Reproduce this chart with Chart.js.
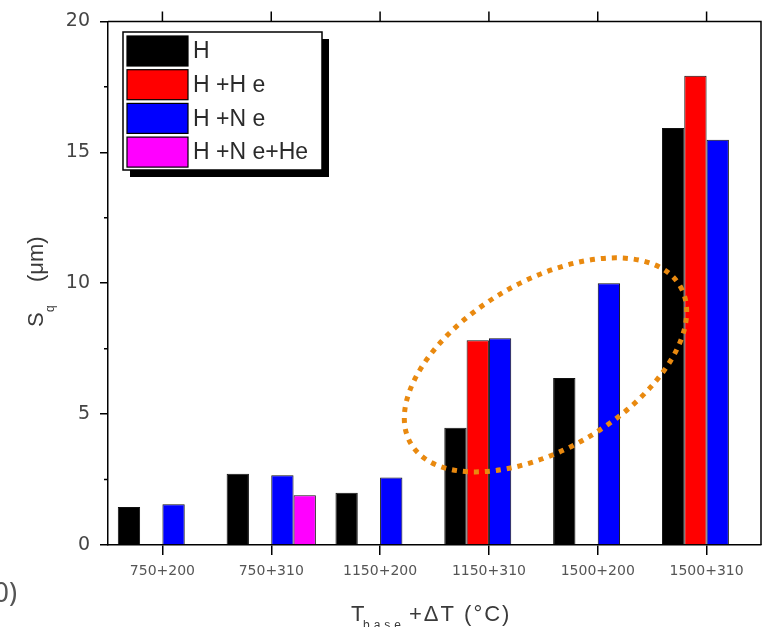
<!DOCTYPE html>
<html>
<head>
<meta charset="utf-8">
<script src="https://cdn.jsdelivr.net/npm/chart.js@4"></script>
<style>
  body { margin: 0; background: #fff; }
  #wrap { width: 762px; height: 627px; }
</style>
</head>
<body>
<div id="wrap"><canvas id="sqChart" width="762" height="627"></canvas></div>
<script>
/* DATA */

const categories = ["750+200", "750+310", "1150+200", "1150+310", "1500+200", "1500+310"];
const seriesNames = ["H", "H +H e", "H +N e", "H +N e+He"];
const sqH = [1.45, 2.72, 2.0, 4.48, 6.38, 15.93];
const sqHHe = [null, null, null, 7.82, null, 17.92];
const sqHNe = [1.56, 2.66, 2.58, 7.9, 10.0, 15.48];
const sqHNeHe = [null, 1.9, null, null, null, null];
const seriesColors = ["#000000", "#ff0000", "#0000ff", "#ff00ff"];
const yTicks = [0, 5, 10, 15, 20];
const yMinorTicks = [2.5, 7.5, 12.5, 17.5];

// dotted highlight ring, centre given in axis units
const ring = { x: 3.52, y: 6.88 };

/* PLUGINS */

const framePlugin = {
  id: "frame",
  afterDraw(chart) {
    const { ctx, chartArea: a, scales: { x, y } } = chart;
    ctx.save();
    ctx.strokeStyle = "#000";
    ctx.lineWidth = 1.5;
    ctx.beginPath();
    ctx.moveTo(a.left, a.top);
    ctx.lineTo(a.right, a.top);
    ctx.lineTo(a.right, a.bottom);
    x.ticks.forEach((t, i) => {
      const px = x.getPixelForTick(i);
      ctx.moveTo(px, a.top);
      ctx.lineTo(px, a.top - 10);
    });
    yMinorTicks.forEach(v => {
      const py = y.getPixelForValue(v);
      ctx.moveTo(a.left, py);
      ctx.lineTo(a.left - 4, py);
    });
    ctx.stroke();

    // highlight ring
    ctx.strokeStyle = "#e9890f";
    ctx.lineWidth = 5;
    ctx.setLineDash([5, 6]);
    ctx.beginPath();
    ctx.ellipse(x.getPixelForValue(ring.x), y.getPixelForValue(ring.y), 156, 84, -30.3 * Math.PI / 180, 0, Math.PI * 2);
    ctx.stroke();
    ctx.setLineDash([]);

    // legend
    const lx = 123, ly = 32, lw = 199, lh = 138;
    ctx.fillStyle = "#000";
    ctx.fillRect(lx + 7, ly + 7, lw, lh);
    ctx.fillStyle = "#fff";
    ctx.fillRect(lx, ly, lw, lh);
    ctx.strokeStyle = "#000";
    ctx.lineWidth = 1.5;
    ctx.strokeRect(lx, ly, lw, lh);
    ctx.font = "23px 'Liberation Sans'";
    ctx.textBaseline = "middle";
    ctx.textAlign = "left";
    chart.data.datasets.forEach((ds, i) => {
      const ry = ly + 4 + i * 33.7;
      ctx.fillStyle = ds.backgroundColor;
      ctx.fillRect(lx + 4, ry, 61, 30);
      ctx.lineWidth = 1.2;
      ctx.strokeRect(lx + 4, ry, 61, 30);
      ctx.fillStyle = "#2a2a2a";
      ctx.fillText(ds.label, lx + 70, ry + 16);
    });

    // axis titles
    ctx.fillStyle = "#3a3a3a";
    ctx.textBaseline = "alphabetic";
    ctx.save();
    ctx.translate(43, 0);
    ctx.rotate(-Math.PI / 2);
    ctx.font = "22px 'Liberation Sans'";
    ctx.fillText("S", -327, 0);
    ctx.fillText("(\u03bcm)", -282, 0);
    ctx.font = "12px 'Liberation Sans'";
    ctx.fillText("q", -312, 11);
    ctx.restore();

    ctx.font = "22px 'Liberation Sans'";
    ctx.fillText("T", 351, 621);
    ctx.letterSpacing = "2px";
    ctx.fillText("+\u0394T (\u00b0C)", 409, 621);
    ctx.font = "12px 'Liberation Sans'";
    ctx.letterSpacing = "4px";
    ctx.fillText("base", 363, 629);
    ctx.letterSpacing = "0px";

    // stray caption fragment at the left edge
    ctx.fillStyle = "#555";
    ctx.font = "27px 'Noto Sans'";
    ctx.textAlign = "right";
    ctx.fillText("(0)", 17, 602);
    ctx.restore();
  }
};

/* CHART */

const seriesValues = [sqH, sqHHe, sqHNe, sqHNeHe];

new Chart(document.getElementById("sqChart"), {
  type: "bar",
  data: {
    labels: categories,
    datasets: seriesValues.map((vals, i) => ({
      label: seriesNames[i],
      data: vals,
      backgroundColor: seriesColors[i],
      borderColor: "#111",
      borderWidth: 1,
      categoryPercentage: 0.82,
      barPercentage: 1.0
    }))
  },
  options: {
    responsive: false,
    animation: false,
    layout: { padding: { top: 20, right: 1, left: 0, bottom: 0 } },
    plugins: { legend: { display: false }, tooltip: { enabled: false } },
    scales: {
      x: {
        afterFit: s => { s.height = 82; },
        grid: { offset: false, drawOnChartArea: false, tickLength: 10, color: "#000", lineWidth: 1.5 },
        border: { color: "#000", width: 1.5 },
        ticks: { color: "#555", font: { family: "DejaVu Sans", size: 14 }, padding: 8, maxRotation: 0, autoSkip: false }
      },
      y: {
        min: 0,
        max: 20,
        afterFit: s => { s.width = 108; },
        afterBuildTicks: s => { s.ticks = yTicks.map(v => ({ value: v })); },
        grid: { drawOnChartArea: false, tickLength: 8, color: "#000", lineWidth: 1.5 },
        border: { color: "#000", width: 1.5 },
        ticks: { color: "#444", font: { family: "DejaVu Sans", size: 19 }, padding: 10 }
      }
    }
  },
  plugins: [framePlugin]
});
</script>
</body>
</html>
